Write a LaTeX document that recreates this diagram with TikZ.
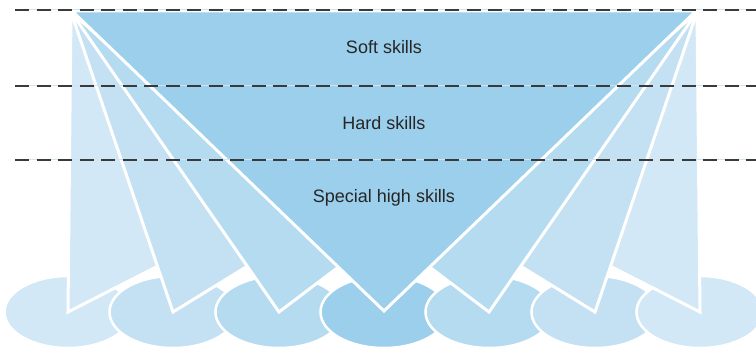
\documentclass[tikz,border=0pt]{standalone}
\usepackage{fontspec}
\setmainfont{Liberation Sans}
\usetikzlibrary{shapes.geometric}

\definecolor{tone1}{HTML}{D2E8F6}
\definecolor{tone2}{HTML}{C3E1F3}
\definecolor{tone3}{HTML}{B4DBF0}
\definecolor{tone4}{HTML}{9BCFEC}
\definecolor{dashgray}{HTML}{3A3A3A}
\definecolor{dashblue}{HTML}{CFE5F3}

\tikzset{
  pad/.style={ellipse,draw=white,line width=2.5pt,minimum width=127pt,minimum height=72pt,inner sep=0pt,outer sep=0pt},
  fan/.style={draw=white,line width=3pt,line join=miter},
  level/.style={font=\fontsize{18}{21}\selectfont,text=black!85,anchor=base},
  sep/.style={dashgray,line width=1.2pt,dash pattern=on 14pt off 7.5pt},
}

\begin{document}
\begin{tikzpicture}[x=1pt,y=-1pt]
  \useasboundingbox (0,0) rectangle (756,347);

  % pads at the bottom
  \node[pad,fill=tone1] (e1) at (68,312) {};
  \node[pad,fill=tone2] (e2) at (173,312) {};
  \node[pad,fill=tone3] (e3) at (279,312) {};
  \node[pad,fill=tone4] (e4) at (384,312) {};
  \node[pad,fill=tone3] (e5) at (489,312) {};
  \node[pad,fill=tone2] (e6) at (595,312) {};
  \node[pad,fill=tone1] (e7) at (700,312) {};

  \coordinate (a) at (71,12);
  \coordinate (b) at (697,12);

  % left fan
  \draw[fan,fill=tone1] (a) -- (e1.center) -- (164,263) -- cycle;
  \draw[fan,fill=tone2] (a) -- (e2.center) -- (259,259) -- cycle;
  \draw[fan,fill=tone3] (a) -- (e3.center) -- (349,259) -- cycle;

  % right fan
  \draw[fan,fill=tone1] (b) -- (e7.center) -- (604,263) -- cycle;
  \draw[fan,fill=tone2] (b) -- (e6.center) -- (509,259) -- cycle;
  \draw[fan,fill=tone3] (b) -- (e5.center) -- (419,259) -- cycle;

  % main triangle
  \coordinate (tl) at (72,11);
  \coordinate (tr) at (696,11);
  \coordinate (v) at (384,311);
  \draw[fan,fill=tone4] (tl) -- (tr) -- (v) -- cycle;

  % level lines
  \coordinate (s1) at (15,10);  \coordinate (t1) at (756,10);
  \coordinate (s2) at (15,86);  \coordinate (t2) at (756,86);
  \coordinate (s3) at (15,160); \coordinate (t3) at (756,160);
  \draw[dashblue,line width=1pt] (s1) -- (t1);
  \draw[dashblue,line width=1pt] (s2) -- (t2);
  \draw[dashblue,line width=1pt] (s3) -- (t3);
  \draw[sep] (s1) -- (t1);
  \draw[sep] (s2) -- (t2);
  \draw[sep] (s3) -- (t3);

  \node[level] (soft) at (384,54) {Soft skills};
  \node[level] (hard) at (384,129.5) {Hard skills};
  \node[level] (special) at (384,203) {Special high skills};
\end{tikzpicture}
\end{document}
